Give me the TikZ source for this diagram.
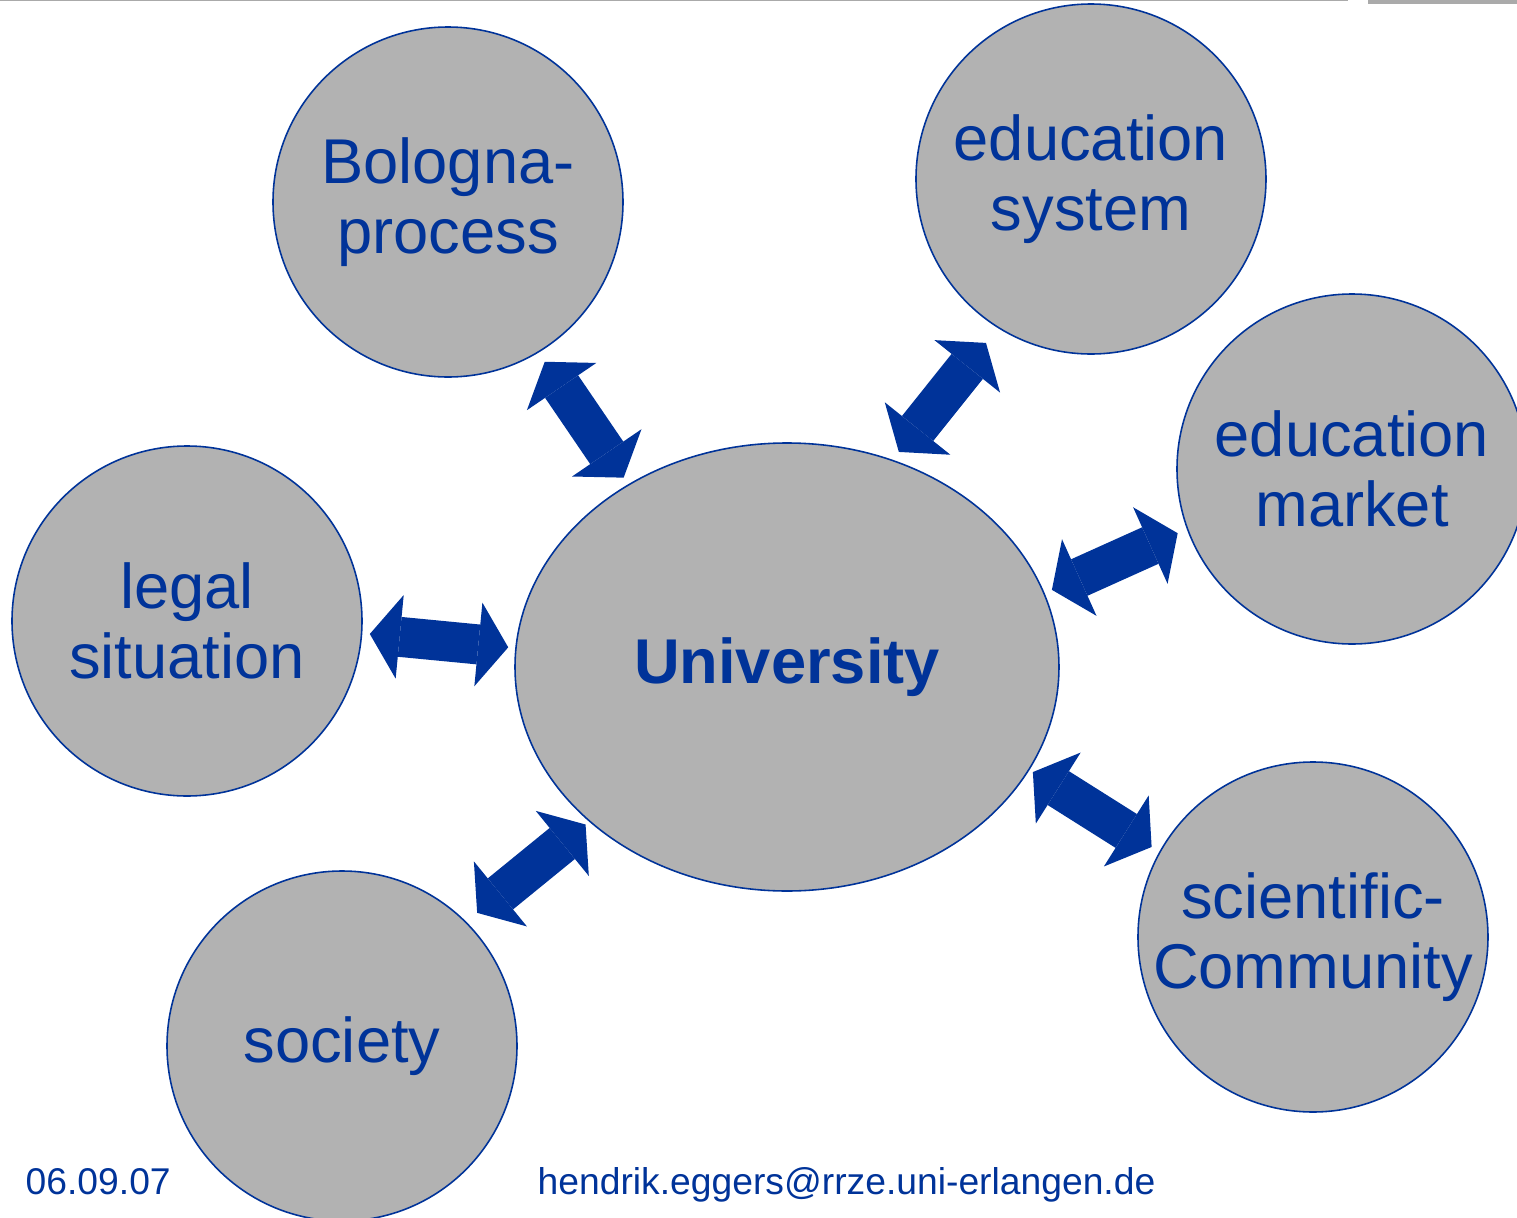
\documentclass[tikz,border=0pt]{standalone}
\usepackage{fontspec}
\setmainfont{Liberation Sans}
\usetikzlibrary{arrows.meta, shapes.geometric}

\definecolor{uniblue}{RGB}{0,51,153}
\definecolor{bubblegray}{RGB}{178,178,178}
\definecolor{rulegray}{RGB}{170,170,170}

\begin{document}
\begin{tikzpicture}[
    bubble/.style={circle,draw=uniblue,line width=0.45pt,fill=bubblegray,
        minimum size=3.5cm,inner sep=0pt,align=center,text=uniblue,
        font=\fontsize{18}{20}\selectfont},
    core/.style={ellipse,draw=uniblue,line width=0.45pt,fill=bubblegray,
        minimum width=5.44cm,minimum height=4.48cm,inner sep=0pt,text=uniblue,
        font=\fontsize{18}{20}\selectfont\bfseries},
    tip/.style={Triangle[length=3mm,width=8.4mm,line width=0pt]},
    link/.style={uniblue,line width=4mm,{Triangle[length=3mm,width=8.4mm,line width=0pt]}-{Triangle[length=3mm,width=8.4mm,line width=0pt]}},
    footer/.style={text=uniblue,inner sep=0pt,anchor=base west,
        font=\fontsize{10.6}{12}\selectfont}
]

% page frame
\useasboundingbox (0,0) rectangle (15.17,-12.18);

% =========================
% TOP RULE
% =========================
\draw[rulegray,line width=0.45pt] (0,-0.006) -- (13.48,-0.006);
\fill[rulegray] (13.68,0) rectangle (15.17,-0.035);

% =========================
% CENTRE
% =========================
\node[core] (univ) at (7.87,-6.67) {University};

% =========================
% SURROUNDING BUBBLES
% =========================
\node[bubble] (bologna)   at (4.48,-2.02)  {Bologna-\\process};
\node[bubble] (edusys)    at (10.91,-1.79) {education\\system};
\node[bubble] (edumarket) at (13.52,-4.69) {education\\market};
\node[bubble] (legal)     at (1.87,-6.21)  {legal\\situation};
\node[bubble] (society)   at (3.42,-10.46) {society};
\node[bubble] (science)   at (13.13,-9.37) {scientific-\\Community};

% =========================
% DOUBLE ARROWS
% =========================
\draw[link,shorten <=0.11cm,shorten >=0.08cm]  (bologna.-59)   -- (univ.131);
\draw[link,shorten <=0.19cm,shorten >=0.10cm]  (edusys.238)    -- (univ.63);
\draw[link,shorten <=0.10cm,shorten >=0.08cm]  (edumarket.200) -- (univ.16);
\draw[link,shorten <=0.075cm,shorten >=0.07cm] (legal.-4)      -- (univ.176);
\draw[link,shorten <=0.14cm,shorten >=0.045cm] (society.45)    -- (univ.218);
\draw[link,shorten <=0.09cm,shorten >=0.04cm]  (science.151)   -- (univ.-23);

% =========================
% FOOTER
% =========================
\node[footer] (date) at (0.25,-11.94) {06.09.07};
\node[footer] (mail) at (5.37,-11.94) {hendrik.eggers@rrze.uni-erlangen.de};
\end{tikzpicture}
\end{document}
